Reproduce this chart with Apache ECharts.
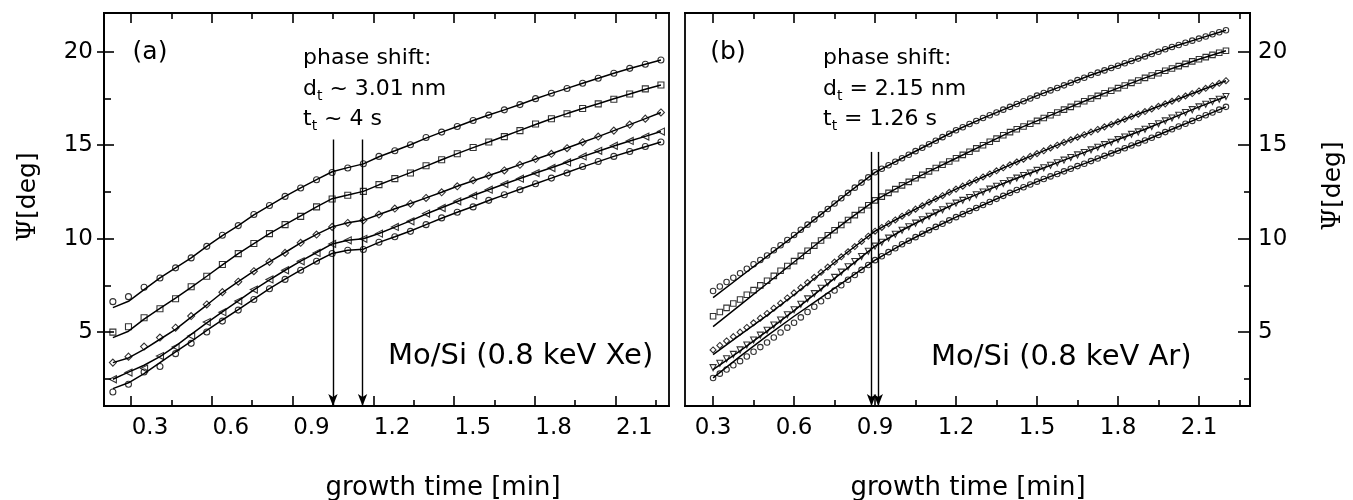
<!DOCTYPE html>
<html><head><meta charset="utf-8">
<script src="https://cdn.jsdelivr.net/npm/echarts@6/dist/echarts.min.js"></script>
<style>html,body{margin:0;padding:0;background:#fff}#c{width:1353px;height:500px}</style>
</head><body><div id="c"></div>
<script>
// ---------- panel (a): Mo/Si, 0.8 keV Xe ----------
const xA = [0.162,0.220,0.278,0.337,0.395,0.453,0.511,0.569,0.628,0.686,0.744,0.802,0.860,0.919,0.977,1.035,1.093,1.151,1.210,1.268,1.326,1.384,1.442,1.501,1.559,1.617,1.675,1.733,1.792,1.850,1.908,1.966,2.024,2.083,2.141,2.199];
const markA1 = [6.63,6.90,7.40,7.90,8.44,8.97,9.59,10.18,10.70,11.29,11.77,12.26,12.71,13.15,13.54,13.78,14.01,14.40,14.70,15.02,15.41,15.70,16.00,16.32,16.61,16.89,17.17,17.49,17.78,18.03,18.31,18.58,18.85,19.11,19.33,19.56];
const markA2 = [5.00,5.29,5.77,6.25,6.79,7.43,7.99,8.62,9.20,9.74,10.27,10.75,11.19,11.70,12.12,12.32,12.53,12.89,13.21,13.51,13.90,14.22,14.54,14.88,15.17,15.46,15.78,16.13,16.41,16.68,16.96,17.21,17.46,17.74,18.01,18.22];
const markA3 = [3.37,3.69,4.23,4.71,5.24,5.86,6.48,7.14,7.70,8.26,8.76,9.24,9.78,10.22,10.63,10.84,10.98,11.29,11.61,11.87,12.18,12.48,12.80,13.12,13.37,13.65,13.95,14.26,14.54,14.84,15.16,15.46,15.78,16.10,16.42,16.75];
const markA4 = [2.48,2.84,3.05,3.72,4.20,4.79,5.54,6.07,6.66,7.28,7.82,8.31,8.79,9.24,9.72,9.91,9.99,10.27,10.63,10.93,11.34,11.64,12.00,12.30,12.62,12.92,13.21,13.51,13.78,14.08,14.40,14.70,14.97,15.23,15.46,15.73];
const markA5 = [1.80,2.21,2.87,3.16,3.85,4.40,5.01,5.59,6.18,6.75,7.32,7.82,8.31,8.79,9.21,9.38,9.42,9.81,10.10,10.39,10.75,11.11,11.41,11.70,12.05,12.35,12.62,12.94,13.24,13.51,13.86,14.13,14.40,14.66,14.93,15.17];
const fitA1 = [6.31,6.65,7.27,7.90,8.44,8.97,9.59,10.16,10.70,11.27,11.77,12.26,12.72,13.16,13.58,13.80,14.00,14.38,14.70,15.02,15.38,15.70,16.00,16.32,16.61,16.89,17.18,17.48,17.77,18.04,18.31,18.58,18.85,19.10,19.33,19.56];
const fitA2 = [4.71,5.05,5.70,6.27,6.82,7.40,7.99,8.60,9.20,9.74,10.27,10.75,11.22,11.70,12.14,12.33,12.53,12.88,13.21,13.53,13.88,14.22,14.55,14.87,15.17,15.48,15.79,16.11,16.41,16.69,16.96,17.22,17.48,17.74,17.99,18.22];
const fitA3 = [3.37,3.62,4.08,4.62,5.15,5.80,6.45,7.12,7.70,8.26,8.76,9.26,9.78,10.23,10.63,10.85,10.98,11.29,11.60,11.88,12.18,12.48,12.80,13.10,13.38,13.66,13.96,14.25,14.54,14.85,15.16,15.46,15.78,16.10,16.42,16.75];
const fitA4 = [2.48,2.86,3.23,3.69,4.25,4.88,5.50,6.08,6.67,7.26,7.80,8.31,8.80,9.26,9.72,9.92,10.00,10.28,10.62,10.95,11.32,11.65,11.99,12.31,12.62,12.92,13.22,13.51,13.79,14.09,14.39,14.68,14.96,15.22,15.47,15.73];
const fitA5 = [1.98,2.29,2.78,3.37,3.94,4.50,5.10,5.65,6.20,6.77,7.33,7.84,8.32,8.79,9.21,9.38,9.44,9.80,10.10,10.41,10.75,11.09,11.41,11.72,12.04,12.34,12.64,12.94,13.24,13.54,13.84,14.12,14.40,14.66,14.92,15.17];
const arrowXA = [0.98, 1.09];
const arrowTopA = 15.3;

// ---------- panel (b): Mo/Si, 0.8 keV Ar ----------
const xB = [0.3,0.325,0.35,0.375,0.4,0.425,0.45,0.475,0.5,0.525,0.55,0.575,0.6,0.625,0.65,0.675,0.7,0.725,0.75,0.775,0.8,0.825,0.85,0.875,0.9,0.925,0.95,0.975,1.0,1.025,1.05,1.075,1.1,1.125,1.15,1.175,1.2,1.225,1.25,1.275,1.3,1.325,1.35,1.375,1.4,1.425,1.45,1.475,1.5,1.525,1.55,1.575,1.6,1.625,1.65,1.675,1.7,1.725,1.75,1.775,1.8,1.825,1.85,1.875,1.9,1.925,1.95,1.975,2.0,2.025,2.05,2.075,2.1,2.125,2.15,2.175,2.2];
const markB1 = [7.20,7.44,7.68,7.91,8.15,8.39,8.63,8.86,9.10,9.38,9.65,9.93,10.20,10.48,10.75,11.03,11.30,11.59,11.88,12.16,12.45,12.73,13.00,13.28,13.55,13.74,13.93,14.11,14.30,14.49,14.68,14.86,15.05,15.24,15.43,15.61,15.80,15.96,16.13,16.29,16.45,16.60,16.75,16.90,17.05,17.20,17.35,17.50,17.65,17.79,17.93,18.06,18.20,18.34,18.48,18.61,18.75,18.88,19.00,19.13,19.25,19.38,19.50,19.63,19.75,19.88,20.00,20.13,20.25,20.36,20.48,20.59,20.70,20.81,20.93,21.04,21.15];
const markB2 = [5.85,6.08,6.30,6.53,6.75,7.00,7.25,7.50,7.75,8.01,8.28,8.54,8.80,9.08,9.35,9.63,9.90,10.18,10.45,10.73,11.00,11.26,11.53,11.79,12.05,12.25,12.45,12.65,12.85,13.04,13.23,13.41,13.60,13.78,13.95,14.13,14.30,14.48,14.65,14.83,15.00,15.18,15.35,15.53,15.70,15.85,16.00,16.15,16.30,16.45,16.60,16.75,16.90,17.05,17.20,17.35,17.50,17.64,17.78,17.91,18.05,18.19,18.33,18.46,18.60,18.73,18.85,18.98,19.10,19.23,19.35,19.48,19.60,19.71,19.83,19.94,20.05];
const markB3 = [4.05,4.29,4.53,4.76,5.00,5.25,5.50,5.75,6.00,6.28,6.55,6.83,7.10,7.38,7.65,7.93,8.20,8.48,8.75,9.03,9.30,9.58,9.85,10.13,10.40,10.60,10.80,11.00,11.20,11.39,11.58,11.76,11.95,12.13,12.30,12.48,12.65,12.81,12.98,13.14,13.30,13.46,13.63,13.79,13.95,14.10,14.25,14.40,14.55,14.70,14.85,15.00,15.15,15.29,15.43,15.56,15.70,15.84,15.98,16.11,16.25,16.39,16.53,16.66,16.80,16.94,17.08,17.21,17.35,17.49,17.63,17.76,17.90,18.04,18.18,18.31,18.45];
const markB4 = [3.10,3.34,3.58,3.81,4.05,4.31,4.58,4.84,5.10,5.38,5.65,5.93,6.20,6.49,6.78,7.06,7.35,7.64,7.93,8.21,8.50,8.78,9.05,9.33,9.60,9.81,10.03,10.24,10.45,10.64,10.83,11.01,11.20,11.38,11.55,11.73,11.90,12.05,12.20,12.35,12.50,12.65,12.80,12.95,13.10,13.24,13.38,13.51,13.65,13.79,13.93,14.06,14.20,14.34,14.48,14.61,14.75,14.89,15.03,15.16,15.30,15.44,15.58,15.71,15.85,16.00,16.15,16.30,16.45,16.60,16.75,16.90,17.05,17.19,17.33,17.46,17.60];
const markB5 = [2.55,2.78,3.00,3.23,3.45,3.70,3.95,4.20,4.45,4.71,4.98,5.24,5.50,5.79,6.08,6.36,6.65,6.94,7.23,7.51,7.80,8.06,8.33,8.59,8.85,9.06,9.28,9.49,9.70,9.89,10.08,10.26,10.45,10.63,10.80,10.98,11.15,11.31,11.48,11.64,11.80,11.96,12.13,12.29,12.45,12.60,12.75,12.90,13.05,13.19,13.33,13.46,13.60,13.74,13.88,14.01,14.15,14.29,14.43,14.56,14.70,14.84,14.98,15.11,15.25,15.40,15.55,15.70,15.85,16.00,16.15,16.30,16.45,16.60,16.75,16.90,17.05];
const xBfit = [0.3,0.4,0.5,0.6,0.7,0.8,0.9,1.0,1.1,1.2,1.3,1.4,1.5,1.6,1.7,1.8,1.9,2.0,2.1,2.2];
const fitB1 = [6.85,7.95,9.05,10.15,11.30,12.45,13.55,14.30,15.05,15.80,16.45,17.05,17.65,18.20,18.75,19.25,19.75,20.25,20.70,21.15];
const fitB2 = [5.30,6.45,7.60,8.75,9.90,11.00,12.05,12.85,13.60,14.30,15.00,15.70,16.30,16.90,17.50,18.05,18.60,19.10,19.60,20.05];
const fitB3 = [3.80,4.85,5.90,7.00,8.15,9.30,10.40,11.20,11.95,12.65,13.30,13.95,14.55,15.15,15.70,16.25,16.80,17.35,17.90,18.45];
const fitB4 = [3.00,4.00,5.05,6.15,7.30,8.45,9.60,10.45,11.20,11.90,12.50,13.10,13.65,14.20,14.75,15.30,15.85,16.45,17.05,17.60];
const fitB5 = [2.55,3.70,4.80,5.85,6.85,7.85,8.85,9.70,10.45,11.15,11.80,12.45,13.05,13.60,14.15,14.70,15.25,15.85,16.45,17.05];
const arrowXB = [0.887, 0.912];
const arrowTopB = 14.64;

// ---------- ticks ----------
const xLabelsA = [0.3,0.6,0.9,1.2,1.5,1.8,2.1];
const xMajorA = [0.23,0.53,0.83,1.13,1.43,1.73,2.03];
const xMinorA = [0.38,0.68,0.98,1.28,1.58,1.88,2.18];
const xLabelsB = [0.3,0.6,0.9,1.2,1.5,1.8,2.1];
const xMinorB = [0.45,0.75,1.05,1.35,1.65,1.95,2.25];
const yLabels = [5,10,15,20];
const yMinor = [2.5,7.5,12.5,17.5];

const FONT = 'DejaVu Sans';
const Y_MIN = 1.05, Y_MAX = 22.07;
const XA_MIN = 0.129, XA_MAX = 2.229;
const XB_MIN = 0.196, XB_MAX = 2.289;
const AXW = 1.8;

function xAx(gi, pos, min, max, ticks, len, labels) {
  return {
    type: 'value', gridIndex: gi, position: pos, min: min, max: max,
    splitLine: { show: false },
    axisLine: { show: true, onZero: false, lineStyle: { color: '#000', width: AXW } },
    axisTick: { show: true, inside: true, length: len, customValues: ticks, lineStyle: { color: '#000', width: 1.6 } },
    axisLabel: labels ? { show: true, customValues: labels, formatter: v => v.toFixed(1), margin: 11,
      color: '#000', fontFamily: FONT, fontSize: 23 } : { show: false }
  };
}
function yAx(gi, pos, ticks, len, inside, labels, margin) {
  return {
    type: 'value', gridIndex: gi, position: pos, min: Y_MIN, max: Y_MAX,
    splitLine: { show: false },
    axisLine: { show: true, onZero: false, lineStyle: { color: '#000', width: AXW } },
    axisTick: { show: true, inside: inside, length: len, customValues: ticks, lineStyle: { color: '#000', width: 1.6 } },
    axisLabel: labels ? { show: true, customValues: labels, formatter: v => String(v), margin: margin,
      color: '#000', fontFamily: FONT, fontSize: 23 } : { show: false }
  };
}
const zip = (xs, ys) => xs.map((x, i) => [x, ys[i]]);

function fitSeries(xi, yi, xs, ys) {
  return { type: 'line', xAxisIndex: xi, yAxisIndex: yi, data: zip(xs, ys), showSymbol: false,
    smooth: false, lineStyle: { color: '#000', width: 1.5 }, z: 2, silent: true };
}
function markSeries(xi, yi, xs, ys, symbol, size, rot) {
  return { type: 'scatter', xAxisIndex: xi, yAxisIndex: yi, data: zip(xs, ys), symbol: symbol,
    symbolSize: size, symbolRotate: rot || 0,
    itemStyle: { color: 'rgba(255,255,255,0)', borderColor: '#000', borderWidth: 1.1 }, z: 3, silent: true };
}
function arrowSeries(xi, yi, xs, top) {
  return { type: 'line', xAxisIndex: xi, yAxisIndex: yi, data: [], silent: true,
    markLine: { silent: true, animation: false, symbol: ['none', 'arrow'], symbolSize: [7, 12],
      lineStyle: { color: '#000', width: 1.4, type: 'solid' }, label: { show: false },
      emphasis: { disabled: true },
      data: xs.map(x => [{ coord: [x, top] }, { coord: [x, Y_MIN] }]) } };
}

const chart = echarts.init(document.getElementById('c'), null, { renderer: 'canvas' });
function txt(x, y, text, size, align, extra) {
  return Object.assign({ type: 'text', x: x, y: y, silent: true,
    style: Object.assign({ text: text, fontFamily: FONT, fontSize: size, fill: '#000',
      align: align, textAlign: align, verticalAlign: 'middle', textVerticalAlign: 'middle' }, extra || {}) });
}
const subRich = {
  m: { fontFamily: FONT, fontSize: 22, lineHeight: 28, fill: '#000', color: '#000' },
  s: { fontFamily: FONT, fontSize: 14, lineHeight: 14, verticalAlign: 'bottom', fill: '#000', color: '#000' }
};
const axisNameRich = {
  p: { fontFamily: 'DejaVu Serif', fontSize: 26, fill: '#000', color: '#000' },
  t: { fontFamily: FONT, fontSize: 25, fill: '#000', color: '#000' }
};

chart.setOption({
  animation: false,
  backgroundColor: '#fff',
  grid: [
    { left: 104, top: 13, width: 565, height: 393, show: true, borderColor: '#000', borderWidth: AXW, containLabel: false },
    { left: 685, top: 13, width: 565, height: 393, show: true, borderColor: '#000', borderWidth: AXW, containLabel: false }
  ],
  xAxis: [
    xAx(0, 'bottom', XA_MIN, XA_MAX, xMajorA, 10, xLabelsA),
    xAx(0, 'bottom', XA_MIN, XA_MAX, xMinorA, 6, null),
    xAx(0, 'top', XA_MIN, XA_MAX, xMajorA, 10, null),
    xAx(0, 'top', XA_MIN, XA_MAX, xMinorA, 6, null),
    xAx(1, 'bottom', XB_MIN, XB_MAX, xLabelsB, 10, xLabelsB),
    xAx(1, 'bottom', XB_MIN, XB_MAX, xMinorB, 6, null),
    xAx(1, 'top', XB_MIN, XB_MAX, xLabelsB, 10, null),
    xAx(1, 'top', XB_MIN, XB_MAX, xMinorB, 6, null)
  ],
  yAxis: [
    yAx(0, 'left', yLabels, 10, true, yLabels, 11),
    yAx(0, 'left', yMinor, 7, true, null, 0),
    yAx(0, 'left', yLabels, 7, false, null, 0),
    yAx(1, 'right', yLabels, 12, true, yLabels, 8),
    yAx(1, 'right', yMinor, 6, true, null, 0)
  ],
  series: [
    fitSeries(0, 0, xA, fitA1),
    fitSeries(0, 0, xA, fitA2),
    fitSeries(0, 0, xA, fitA3),
    fitSeries(0, 0, xA, fitA4),
    fitSeries(0, 0, xA, fitA5),
    markSeries(0, 0, xA, markA1, 'circle', 6),
    markSeries(0, 0, xA, markA2, 'rect', 6),
    markSeries(0, 0, xA, markA3, 'diamond', 7),
    markSeries(0, 0, xA, markA4, 'triangle', 7, 90),
    markSeries(0, 0, xA, markA5, 'circle', 6),
    arrowSeries(0, 0, arrowXA, arrowTopA),
    fitSeries(4, 3, xBfit, fitB1),
    fitSeries(4, 3, xBfit, fitB2),
    fitSeries(4, 3, xBfit, fitB3),
    fitSeries(4, 3, xBfit, fitB4),
    fitSeries(4, 3, xBfit, fitB5),
    markSeries(4, 3, xB, markB1, 'circle', 5.5),
    markSeries(4, 3, xB, markB2, 'rect', 5.5),
    markSeries(4, 3, xB, markB3, 'diamond', 6),
    markSeries(4, 3, xB, markB4, 'triangle', 6, 180),
    markSeries(4, 3, xB, markB5, 'circle', 5.5),
    arrowSeries(4, 3, arrowXB, arrowTopB)
  ],
  graphic: [
    txt(150, 52, '(a)', 25, 'center'),
    txt(728, 52, '(b)', 25, 'center'),
    txt(303, 58, 'phase shift:', 22, 'left'),
    txt(303, 89, '{m|d}{s|t}{m| ~ 3.01 nm}', 22, 'left', { rich: subRich }),
    txt(303, 119, '{m|t}{s|t}{m| ~ 4 s}', 22, 'left', { rich: subRich }),
    txt(823, 58, 'phase shift:', 22, 'left'),
    txt(823, 89, '{m|d}{s|t}{m| = 2.15 nm}', 22, 'left', { rich: subRich }),
    txt(823, 119, '{m|t}{s|t}{m| = 1.26 s}', 22, 'left', { rich: subRich }),
    txt(388, 356, 'Mo/Si (0.8 keV Xe)', 29, 'left'),
    txt(931, 357, 'Mo/Si (0.8 keV Ar)', 29, 'left'),
    txt(443, 488, 'growth time [min]', 26, 'center'),
    txt(968, 488, 'growth time [min]', 26, 'center'),
    Object.assign(txt(28, 197, '{p|Ψ}{t|[deg]}', 25, 'center', { rich: axisNameRich }), { rotation: Math.PI / 2 }),
    Object.assign(txt(1333, 186, '{p|Ψ}{t|[deg]}', 25, 'center', { rich: axisNameRich }), { rotation: Math.PI / 2 })
  ]
});
</script>
</body></html>
